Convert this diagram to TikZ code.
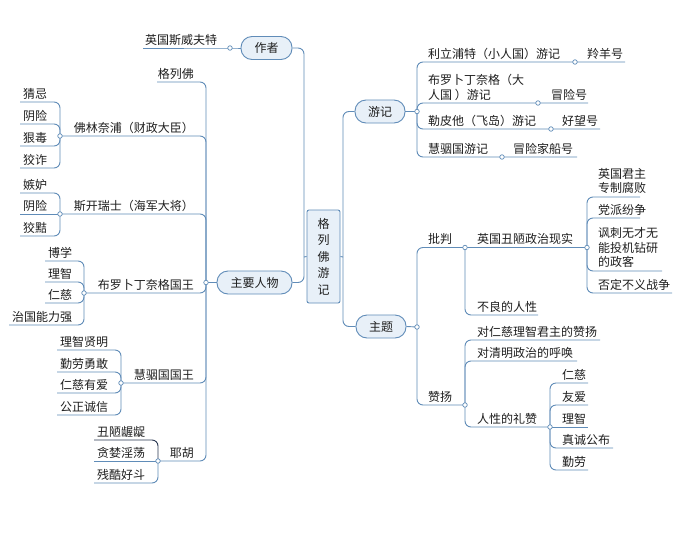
\documentclass[tikz,border=0pt]{standalone}
\usepackage{fontspec}
\setmainfont{Noto Sans CJK SC}
\definecolor{ln}{RGB}{96,140,184}
\definecolor{fb}{RGB}{232,240,248}
\definecolor{tx}{RGB}{30,30,30}
\definecolor{dk}{RGB}{40,55,80}
\tikzset{
  txt/.style={inner sep=0pt, text=tx, font=\fontsize{12}{14.5}\selectfont, align=left},
  lw/.style={txt, anchor=base west},
  le/.style={txt, anchor=base east},
  pill/.style={draw=ln, fill=fb, line width=0.9pt, rounded corners=11pt, minimum height=23pt, inner sep=0pt, text=tx, font=\fontsize{12}{14.5}\selectfont},
  rootbox/.style={draw=ln, fill=fb, line width=0.9pt, rounded corners=2pt, minimum width=33pt, minimum height=93pt, inner sep=0pt, align=center, text=tx, font=\fontsize{12}{16.5}\selectfont},
  conn/.style={draw=ln, line width=0.9pt, rounded corners=6pt},
  dot/.style={circle, draw=ln, fill=white, line width=0.7pt, inner sep=0pt, minimum size=4.5pt}
}
\begin{document}
\begin{tikzpicture}[x=1pt,y=-1pt]
\useasboundingbox (0,0) rectangle (694,555);
\fill[white] (0,0) rectangle (694,555);
% root and main topics
\node[rootbox] (root) at (323.5,256.5) {格\\列\\佛\\游\\记};
\node[pill, minimum width=51pt] (author) at (266.5,48) {作者};
\node[pill, minimum width=50pt] (travel) at (380,111.5) {游记};
\node[pill, minimum width=50pt] (theme) at (381,326.5) {主题};
\node[pill, minimum width=75pt] (chars) at (254.5,282.5) {主要人物};
\coordinate (tL) at (304,257);
\coordinate (tR) at (343,257);
\draw[conn] (root.west) -- (tL);
\draw[conn] (tL) |- (author.east);
\draw[conn] (tL) |- (chars.east);
\draw[conn] (root.east) -- (tR);
\draw[conn] (tR) |- (travel.west);
\draw[conn] (tR) |- (theme.west);
% author
\coordinate (dA) at (230,48);
\coordinate (aE) at (143,48);
\node[lw] (swift) at (145,44) {英国斯威夫特};
\draw[conn] (author.west) -- (dA) -- (aE);
% travels
\coordinate (dT) at (417,111.5);
\draw[conn] (travel.east) -- (dT);
\coordinate (d1) at (575,62);  \coordinate (g1e) at (625,62);
\coordinate (d2) at (538,103); \coordinate (g2e) at (588,103);
\coordinate (d3) at (551,129); \coordinate (g3e) at (600,129);
\coordinate (d4) at (502,157); \coordinate (g4e) at (577,157);
\node[lw] (t1) at (428,58) {利立浦特（小人国）游记};
\node[lw] (t2) at (428,99) {布罗卜丁奈格（大\\人国 ）游记};
\node[lw] (t3) at (428,125) {勒皮他（飞岛）游记};
\node[lw] (t4) at (428,153) {慧骃国游记};
\node[lw] (s1) at (587,58) {羚羊号};
\node[lw] (s2) at (551,99) {冒险号};
\node[lw] (s3) at (562,125) {好望号};
\node[lw] (s4) at (513,153) {冒险家船号};
\draw[conn] (dT) |- (d1) -- (g1e);
\draw[conn] (dT) |- (d2) -- (g2e);
\draw[conn] (dT) |- (d3) -- (g3e);
\draw[conn] (dT) |- (d4) -- (g4e);
% theme
\coordinate (dM) at (417,327);
\draw[conn] (theme.east) -- (dM);
\coordinate (dP) at (465,247.5);
\coordinate (dE) at (587,247.5);
\node[lw] (pj) at (428,243.5) {批判};
\node[lw] (eng) at (477,243.5) {英国丑陋政治现实};
\draw[conn] (dM) |- (dP) -- (dE);
\coordinate (e1) at (640,197);
\coordinate (e2) at (640,218);
\coordinate (e3) at (662,271);
\coordinate (e4) at (672,293);
\node[lw] (n1) at (598,192.5) {英国君主\\专制腐败};
\node[lw] (n2) at (598,214) {党派纷争};
\node[lw] (n3) at (598,266.5) {讽刺无才无\\能投机钻研\\的政客};
\node[lw] (n4) at (598,289) {否定不义战争};
\draw[conn] (dE) |- (e1);
\draw[conn] (dE) |- (e2);
\draw[conn] (dE) |- (e3);
\draw[conn] (dE) |- (e4);
\coordinate (bE) at (538,315);
\node[lw] (bad) at (477,311) {不良的人性};
\draw[conn] (dP) |- (bE);
\coordinate (dZ) at (465,405);
\node[lw] (zy) at (428,401) {赞扬};
\draw[conn] (dM) |- (dZ);
\coordinate (z1) at (600,340);
\coordinate (z2) at (577,361);
\coordinate (dR) at (550,427);
\node[lw] (zz1) at (477,336) {对仁慈理智君主的赞扬};
\node[lw] (zz2) at (477,357) {对清明政治的呼唤};
\node[lw] (zz3) at (477,423) {人性的礼赞};
\draw[conn] (dZ) |- (z1);
\draw[conn] (dZ) |- (z2);
\draw[conn] (dZ) |- (dR);
\coordinate (r1) at (588,383);
\coordinate (r2) at (588,405);
\coordinate (r3) at (588,427);
\coordinate (r4) at (613,448);
\coordinate (r5) at (588,470);
\node[lw] (rr1) at (562,379) {仁慈};
\node[lw] (rr2) at (562,401) {友爱};
\node[lw] (rr3) at (562,423) {理智};
\node[lw] (rr4) at (562,444) {真诚公布};
\node[lw] (rr5) at (562,466) {勤劳};
\draw[conn] (dR) |- (r1);
\draw[conn] (dR) |- (r2);
\draw[conn] (dR) -- (r3);
\draw[conn] (dR) |- (r4);
\draw[conn] (dR) |- (r5);
% characters
\coordinate (dC) at (206,282.5);
\draw[conn] (chars.west) -- (dC);
\coordinate (gE) at (157,82);
\coordinate (dF) at (60,136);
\coordinate (dS) at (60,214);
\coordinate (dB) at (84,293);
\coordinate (dH) at (121,383);
\coordinate (dY) at (158,461);
\node[le] (c1) at (194,78) {格列佛};
\node[le] (c2) at (194,132) {佛林奈浦（财政大臣）};
\node[le] (c3) at (194,210) {斯开瑞士（海军大将）};
\node[le] (c4) at (194,289) {布罗卜丁奈格国王};
\node[le] (c5) at (194,379) {慧骃国国王};
\node[le] (c6) at (194,457) {耶胡};
\draw[conn] (dC) |- (gE);
\draw[conn] (dC) |- (dF);
\draw[conn] (dC) |- (dS);
\draw[conn] (dC) |- (dB);
\draw[conn] (dC) |- (dH);
\draw[conn] (dC) |- (dY);
% Flimnap
\coordinate (f1) at (20,102); \coordinate (f2) at (20,124);
\coordinate (f3) at (20,146); \coordinate (f4) at (20,168);
\node[lw] (ff1) at (23,98) {猜忌};
\node[lw] (ff2) at (23,120) {阴险};
\node[lw] (ff3) at (23,142) {狠毒};
\node[lw] (ff4) at (23,164) {狡诈};
\draw[conn] (dF) |- (f1);
\draw[conn] (dF) |- (f2);
\draw[conn] (dF) |- (f3);
\draw[conn] (dF) |- (f4);
% Skyresh
\coordinate (k1) at (20,193); \coordinate (k2) at (20,214); \coordinate (k3) at (20,236);
\node[lw] (kk1) at (23,189) {嫉妒};
\node[lw] (kk2) at (23,210) {阴险};
\node[lw] (kk3) at (23,232) {狡黠};
\draw[conn] (dS) |- (k1);
\draw[conn] (dS) -- (k2);
\draw[conn] (dS) |- (k3);
% Brobdingnag king
\coordinate (b1) at (45,261); \coordinate (b2) at (45,282);
\coordinate (b3) at (45,303); \coordinate (b4) at (9,325);
\node[lw] (bb1) at (48,257) {博学};
\node[lw] (bb2) at (48,278) {理智};
\node[lw] (bb3) at (48,299) {仁慈};
\node[lw] (bb4) at (12,321) {治国能力强};
\draw[conn] (dB) |- (b1);
\draw[conn] (dB) |- (b2);
\draw[conn] (dB) |- (b3);
\draw[conn] (dB) |- (b4);
% Houyhnhnm king
\coordinate (h1) at (57,350); \coordinate (h2) at (57,372);
\coordinate (h3) at (57,393); \coordinate (h4) at (57,415);
\node[lw] (hh1) at (60,346) {理智贤明};
\node[lw] (hh2) at (60,368) {勤劳勇敢};
\node[lw] (hh3) at (60,389) {仁慈有爱};
\node[lw] (hh4) at (60,411) {公正诚信};
\draw[conn] (dH) |- (h1);
\draw[conn] (dH) |- (h2);
\draw[conn] (dH) |- (h3);
\draw[conn] (dH) |- (h4);
% Yahoo
\coordinate (y1) at (94,440); \coordinate (y2) at (94,461); \coordinate (y3) at (94,483);
\node[lw] (yy1) at (97,436) {丑陋龌龊};
\node[lw] (yy2) at (97,457) {贪婪淫荡};
\node[lw] (yy3) at (97,479) {残酷好斗};
\draw[conn, draw=dk] (dY) |- (y1);
\draw[conn] (dY) -- (y2);
\draw[conn] (dY) |- (y3);
% dots
\foreach \p in {dA,dT,d1,d2,d3,d4,dM,dP,dE,dZ,dR,dC,dF,dS,dB,dH,dY}
  \node[dot] at (\p) {};
\end{tikzpicture}
\end{document}
